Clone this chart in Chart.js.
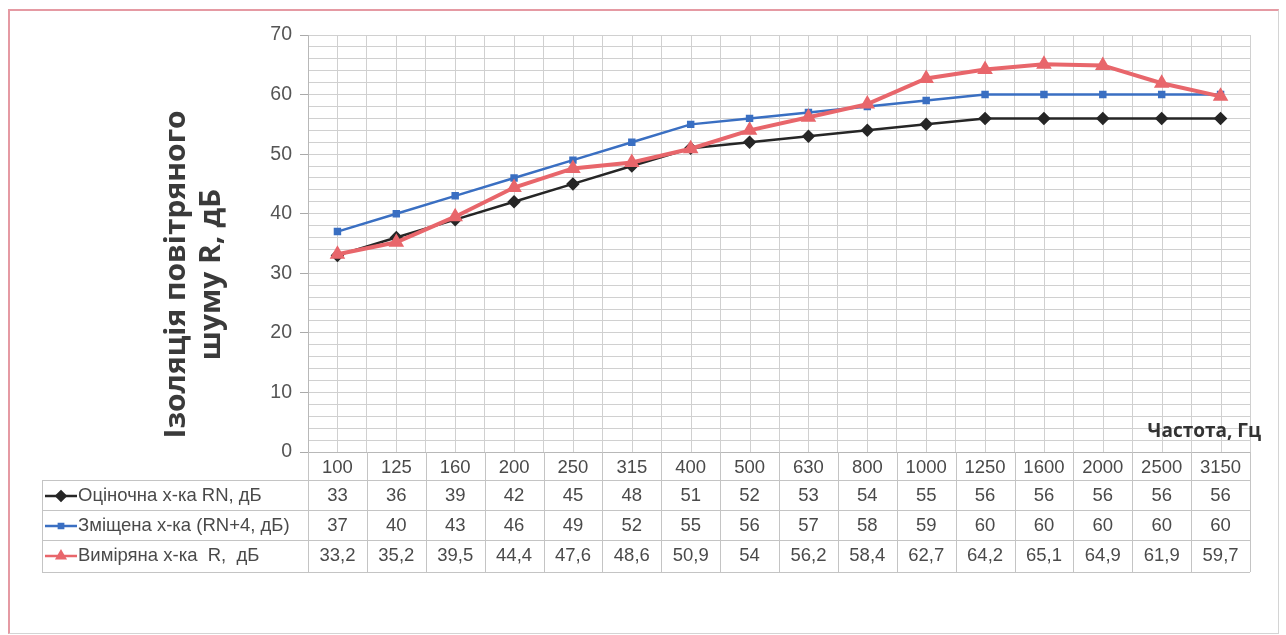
<!DOCTYPE html>
<html>
<head>
<meta charset="utf-8">
<script src="https://cdn.jsdelivr.net/npm/chart.js@4"></script>
<style>
  html, body { margin: 0; padding: 0; background: #fff; }
  #wrap { position: relative; width: 1286px; height: 635px; }
  #frame {
    position: absolute; left: 8px; top: 9px; width: 1268px; height: 622px;
    border-top: 2px solid #e59aa3; border-left: 2px solid #e59aa3;
    border-right: 1px solid #d4d4d4; border-bottom: 1px solid #d4d4d4;
  }
  canvas { position: absolute; left: 0; top: 0; }
</style>
</head>
<body>
<div id="wrap">
  <div id="frame"></div>
  <canvas id="chart" width="1286" height="635"></canvas>
</div>
<script>
// Frequency bands, Hz
const FREQS = ['100','125','160','200','250','315','400','500','630','800',
               '1000','1250','1600','2000','2500','3150'];

// Series values, dB
const RN_VALUES       = [33, 36, 39, 42, 45, 48, 51, 52, 53, 54, 55, 56, 56, 56, 56, 56];
const SHIFTED_VALUES  = [37, 40, 43, 46, 49, 52, 55, 56, 57, 58, 59, 60, 60, 60, 60, 60];
const MEASURED_VALUES = [33.2, 35.2, 39.5, 44.4, 47.6, 48.6, 50.9, 54, 56.2, 58.4,
                         62.7, 64.2, 65.1, 64.9, 61.9, 59.7];

const SERIES_LABELS = ['Оціночна х-ка RN, дБ', 'Зміщена х-ка (RN+4, дБ)', 'Виміряна х-ка  R,  дБ'];
const Y_TITLE = ['Ізоляція повітряного', 'шуму R, дБ'];
const X_TITLE = 'Частота, Гц';

const FONT = "'Liberation Sans', 'DejaVu Sans', sans-serif";
const TITLE_FONT = "'Open Sans', 'DejaVu Sans', sans-serif";
const GRID = '#d0d0d0';
const TABLE_LINE = '#c4c4c4';
const TEXT = '#4a4a4a';

const fmt = v => String(v).replace('.', ',');

// ── table + titles drawn under / after the chart ────────────────────────────
const tablePlugin = {
  id: 'dataTable',
  beforeDatasetsDraw(chart) {
    // minor vertical lines at category centres
    const { ctx, chartArea: a, scales: { x } } = chart;
    ctx.save();
    ctx.strokeStyle = GRID;
    ctx.lineWidth = 1;
    FREQS.forEach((_, i) => {
      const px = Math.round(x.getPixelForValue(i)) + 0.5;
      ctx.beginPath(); ctx.moveTo(px, a.top); ctx.lineTo(px, a.bottom); ctx.stroke();
    });
    ctx.restore();
  },
  afterDraw(chart) {
    const { ctx, chartArea: a, scales: { x } } = chart;
    const rowH = 30;
    const headTop = a.bottom, headBot = a.bottom + 28;
    const rowsBot = headBot + rowH * 3 + 2;
    const legLeft = 42;
    const step = x.getPixelForValue(1) - x.getPixelForValue(0);

    ctx.save();
    ctx.strokeStyle = TABLE_LINE;
    ctx.lineWidth = 1;
    // vertical cell borders at category boundaries
    for (let i = 0; i <= FREQS.length; i++) {
      const px = Math.round(x.getPixelForValue(0) - step / 2 + i * step) + 0.5;
      ctx.beginPath(); ctx.moveTo(px, headTop); ctx.lineTo(px, rowsBot); ctx.stroke();
    }
    // horizontal row borders
    const rowYs = [headBot, headBot + rowH, headBot + rowH * 2, rowsBot];
    rowYs.forEach(y => {
      ctx.beginPath(); ctx.moveTo(legLeft, y + 0.5); ctx.lineTo(a.right, y + 0.5); ctx.stroke();
    });
    ctx.beginPath(); ctx.moveTo(legLeft + 0.5, headBot); ctx.lineTo(legLeft + 0.5, rowsBot); ctx.stroke();

    // rows: legend key + values
    const series = [RN_VALUES, SHIFTED_VALUES, MEASURED_VALUES];
    ctx.textBaseline = 'middle';
    series.forEach((vals, r) => {
      const ds = chart.data.datasets[r];
      const cy = headBot + rowH * r + rowH / 2 + 1;
      // legend line + marker
      ctx.strokeStyle = ds.borderColor;
      ctx.lineWidth = 2.5;
      ctx.beginPath(); ctx.moveTo(45, cy); ctx.lineTo(77, cy); ctx.stroke();
      ctx.fillStyle = ds.borderColor;
      Chart.helpers.drawPoint(ctx, {
        pointStyle: ds.pointStyle, radius: ds.pointRadius - 0.5, borderWidth: 1
      }, 61, cy);
      ctx.fillStyle = TEXT;
      ctx.font = `18.5px ${FONT}`;
      ctx.textAlign = 'left';
      // legend text squeezed a little to the width of the original narrow font
      const lw = ctx.measureText(SERIES_LABELS[r]).width;
      ctx.save();
      ctx.translate(78, cy);
      ctx.scale(Math.min(1, 226 / ctx.measureText(SERIES_LABELS[1]).width), 1);
      ctx.fillText(SERIES_LABELS[r], 0, 0);
      ctx.restore();
      ctx.textAlign = 'center';
      vals.forEach((v, i) => ctx.fillText(fmt(v), x.getPixelForValue(i), cy));
    });

    // x axis title
    ctx.fillStyle = '#333';
    ctx.font = `bold 19px ${TITLE_FONT}`;
    ctx.textAlign = 'right';
    ctx.textBaseline = 'middle';
    ctx.fillText(X_TITLE, a.right + 11, a.bottom - 20);

    // y axis title, two rotated lines
    ctx.font = `bold 28px ${TITLE_FONT}`;
    ctx.textAlign = 'center';
    ctx.fillStyle = '#3a3a3a';
    ctx.translate(177, (a.top + a.bottom) / 2 + 31);
    ctx.rotate(-Math.PI / 2);
    const tw = ctx.measureText(Y_TITLE[0]).width;
    ctx.scale(328 / tw, 1);
    ctx.fillText(Y_TITLE[0], 0, 0);
    ctx.fillText(Y_TITLE[1], 0, 35);
    ctx.restore();
  }
};

// ── chart ───────────────────────────────────────────────────────────────────
new Chart(document.getElementById('chart').getContext('2d'), {
  type: 'line',
  data: {
    labels: FREQS,
    datasets: [
      {
        label: SERIES_LABELS[0],
        data: RN_VALUES,
        borderColor: '#262626',
        backgroundColor: '#262626',
        borderWidth: 2.5,
        pointStyle: 'rectRot',
        pointRadius: 5,
        order: 2
      },
      {
        label: SERIES_LABELS[1],
        data: SHIFTED_VALUES,
        borderColor: '#3a6fc2',
        backgroundColor: '#3a6fc2',
        borderWidth: 2.5,
        pointStyle: 'rect',
        pointRadius: 3.5,
        order: 1
      },
      {
        label: SERIES_LABELS[2],
        data: MEASURED_VALUES,
        borderColor: '#e8666b',
        backgroundColor: '#e8666b',
        borderWidth: 4,
        pointStyle: 'triangle',
        pointRadius: 5,
        order: 0
      }
    ]
  },
  options: {
    responsive: false,
    animation: false,
    layout: { padding: { top: 35, right: 36, bottom: 155, left: 0 } },
    plugins: { legend: { display: false }, tooltip: { enabled: false } },
    scales: {
      x: {
        offset: true,
        grid: { offset: true, color: GRID, drawTicks: false },
        border: { color: '#b8b8b8' },
        ticks: { color: TEXT, font: { family: FONT, size: 18.5 }, padding: 5 },
        afterFit: s => { s.height = 28; }
      },
      y: {
        min: 0,
        max: 70,
        grid: {
          color: GRID,
          tickLength: 8,
          tickColor: c => (c.tick && c.tick.value % 10 === 0) ? '#aaa' : 'rgba(0,0,0,0)'
        },
        border: { color: '#b8b8b8' },
        ticks: {
          stepSize: 2,
          autoSkip: false,
          color: '#555',
          padding: 8,
          font: { family: FONT, size: 19.5 },
          callback: v => v % 10 === 0 ? v : ''
        },
        afterFit: s => { s.width = 308; }
      }
    }
  },
  plugins: [tablePlugin]
});
</script>
</body>
</html>
